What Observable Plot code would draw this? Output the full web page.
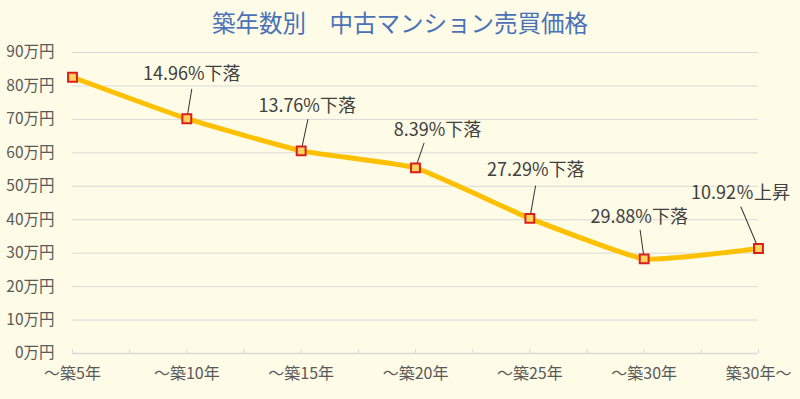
<!DOCTYPE html>
<html>
<head>
<meta charset="utf-8">
<script src="https://cdn.jsdelivr.net/npm/d3@7"></script>
<script src="https://cdn.jsdelivr.net/npm/@observablehq/plot@0.6"></script>
<style>
  html, body { margin: 0; padding: 0; background: #FEFBE6; }
  #wrap { width: 800px; height: 399px; background: #FEFBE6; overflow: hidden; }
  #title { height: 40px; line-height: 44px; text-align: center; font-family: "Noto Sans CJK JP", sans-serif; font-size: 23.5px; color: #4A72B8; }
</style>
</head>
<body>
<div id="wrap">
  <div id="title">築年数別　中古マンション売買価格</div>
  <div id="chart"></div>
</div>
<script>
// Data
const categories = ["～築5年", "～築10年", "～築15年", "～築20年", "～築25年", "～築30年", "築30年～"];
const prices = [82.6, 70.2, 60.6, 55.5, 40.4, 28.3, 31.4]; // 万円
const changeLabels = ["", "14.96%下落", "13.76%下落", "8.39%下落", "27.29%下落", "29.88%下落", "10.92％上昇"];
const yTicks = [0, 10, 20, 30, 40, 50, 60, 70, 80, 90];

// Label placement (pixel offsets from each point): [textDx, textDy, leaderLength, leaderAngle]
const labelLayout = [null, [5, -44, 30, 9.5], [6, -45, 32, 12], [22, -38, 26, 19], [6, -48, 33, 10], [-5, -42, 29, -8], [-18, -55, 45, -23]];

const data = categories.map((c, i) => ({i, c, v: prices[i], label: changeLabels[i]}));
const halfTicks = d3.range(0, categories.length - 0.99, 0.5);

const font = "'Noto Sans CJK JP', sans-serif";
const leader = {draw(ctx, l) { ctx.moveTo(0, 0); ctx.lineTo(0, -l); }};

const marks = [
  Plot.gridY(yTicks, {stroke: "#D9D9D9", strokeOpacity: 1, strokeWidth: 1}),
  Plot.ruleY([0], {stroke: "#D9D9D9", strokeWidth: 1.5}),
  Plot.axisY(yTicks, {tickSize: 0, tickPadding: 18, tickFormat: d => d + "万円", fontSize: 15.5, fill: "#595959", label: null, fontFamily: font}),
  Plot.axisX(halfTicks, {tickSize: -4, stroke: "#D9D9D9", tickFormat: () => "", label: null}),
  Plot.axisX(d3.range(categories.length), {tickSize: 0, tickPadding: 14, tickFormat: d => categories[d], fontSize: 16, fill: "#595959", label: null, fontFamily: font}),
  Plot.line(data, {x: "i", y: "v", stroke: "#FFC000", strokeWidth: 5, curve: "cardinal", tension: 0.6, strokeLinejoin: "round"})
];

data.forEach((d, k) => {
  const L = labelLayout[k];
  if (!L) return;
  marks.push(Plot.vector([d], {x: "i", y: "v", anchor: "start", length: L[2], rotate: L[3], shape: leader, stroke: "#333333", strokeWidth: 1}));
  marks.push(Plot.text([d], {x: "i", y: "v", text: "label", dx: L[0], dy: L[1], fontSize: 18, fill: "#404040", fontFamily: font}));
});

marks.push(Plot.dot(data, {x: "i", y: "v", symbol: "square", r: 5, fill: "#FFD45A", stroke: "#D81E1E", strokeWidth: 2}));

const chart = Plot.plot({
  width: 800,
  height: 359,
  marginLeft: 72,
  marginRight: 42,
  marginTop: 12,
  marginBottom: 46,
  style: {background: "transparent", fontFamily: font},
  x: {type: "linear", domain: [0, categories.length - 1]},
  y: {domain: [0, 90]},
  marks
});
document.getElementById("chart").appendChild(chart);
</script>
</body>
</html>
